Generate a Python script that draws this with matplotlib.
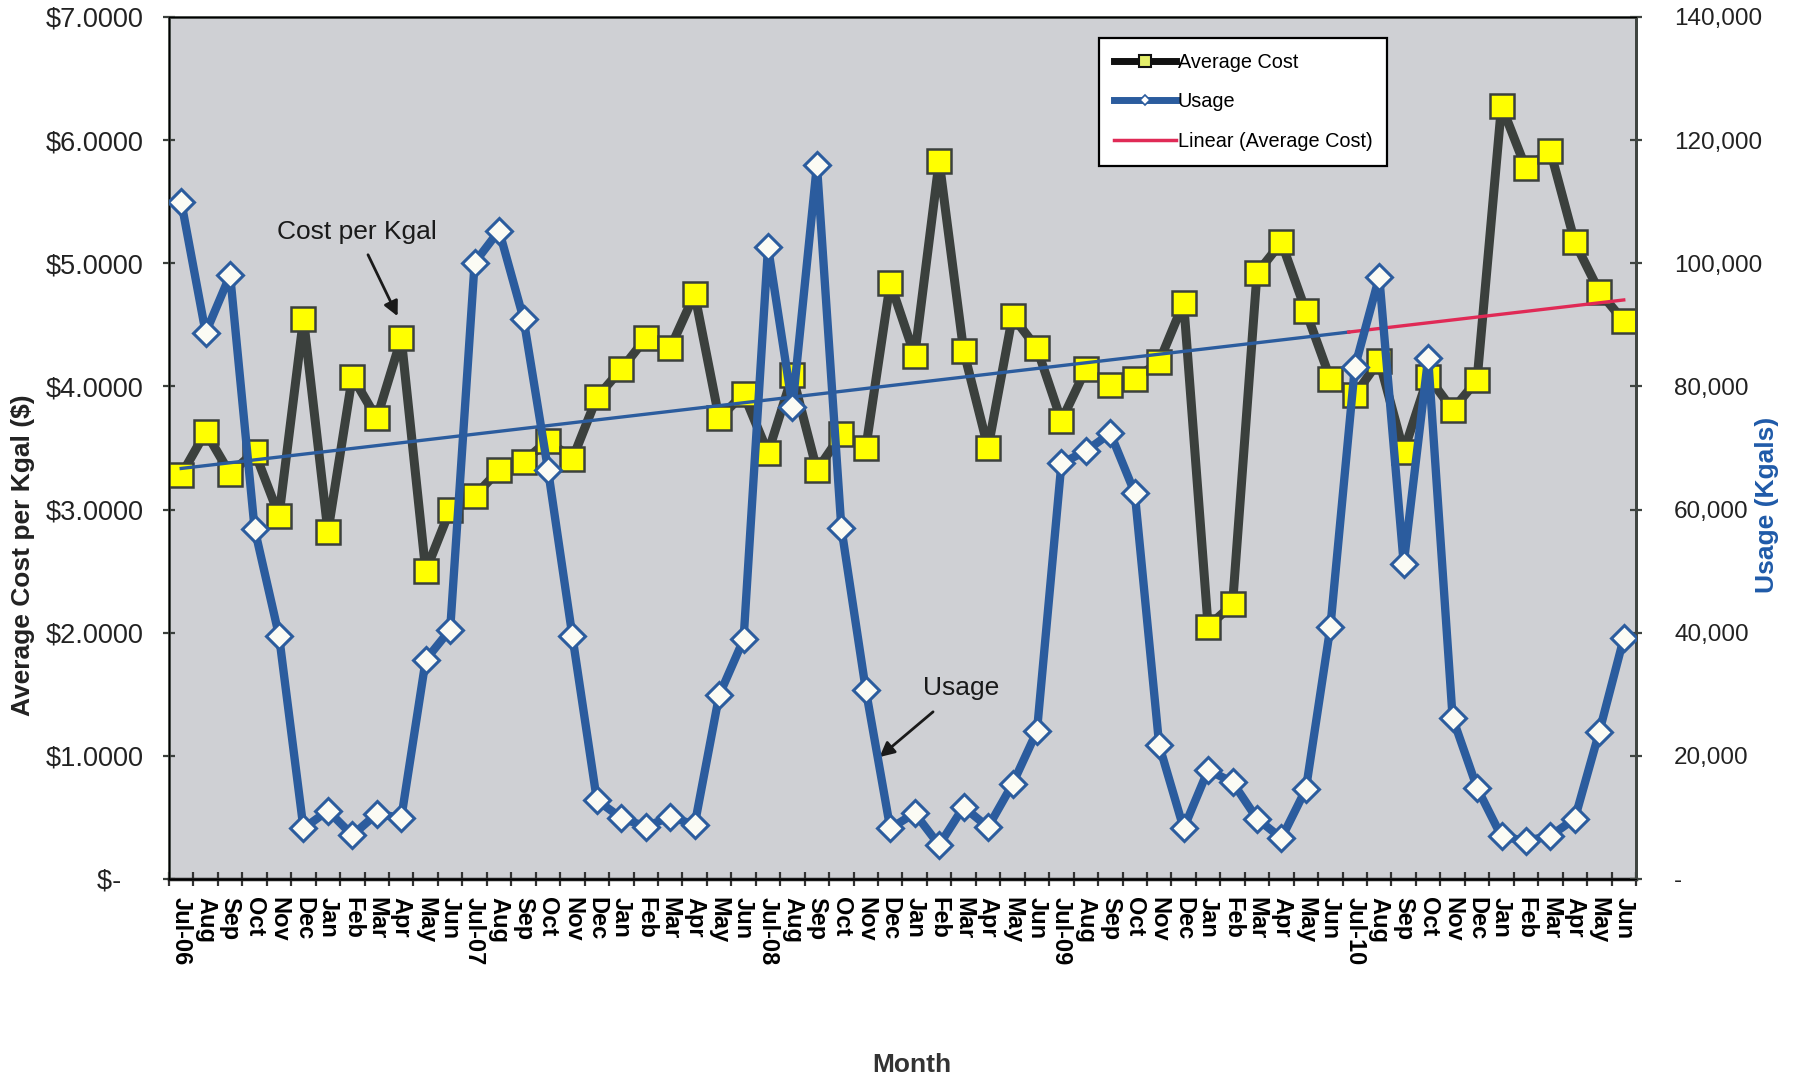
import numpy as np
import matplotlib
matplotlib.use("Agg")
import matplotlib.pyplot as plt
from matplotlib.lines import Line2D
from matplotlib.ticker import FuncFormatter

plt.rcParams['font.family'] = ['Liberation Sans', 'DejaVu Sans']

# Monthly series, Jul-2006 .. Jun-2011
month_names = ["Jul", "Aug", "Sep", "Oct", "Nov", "Dec",
               "Jan", "Feb", "Mar", "Apr", "May", "Jun"]
year_tags = ["06", "07", "08", "09", "10"]

avg_cost = [3.28, 3.63, 3.29, 3.47, 2.95, 4.55, 2.82, 4.08, 3.74, 4.39, 2.50, 3.00,
            3.11, 3.32, 3.39, 3.56, 3.41, 3.91, 4.14, 4.39, 4.31, 4.75, 3.74, 3.94,
            3.46, 4.09, 3.32, 3.61, 3.50, 4.84, 4.25, 5.83, 4.29, 3.50, 4.57, 4.31,
            3.72, 4.14, 4.01, 4.06, 4.20, 4.68, 2.05, 2.23, 4.92, 5.17, 4.61, 4.06,
            3.93, 4.21, 3.47, 4.08, 3.81, 4.05, 6.28, 5.77, 5.91, 5.17, 4.77, 4.53]

usage = [110000, 88700, 98100, 56900, 39500, 8200, 11100, 7100, 10600, 9900, 35600, 40500,
         100100, 105300, 91000, 66500, 39400, 12800, 9900, 8500, 10100, 8800, 29800, 38900,
         102600, 76700, 116000, 57000, 30700, 8200, 10700, 5500, 11700, 8400, 15400, 24000,
         67500, 69500, 72400, 62700, 21700, 8200, 17700, 15700, 9800, 6600, 14600, 40900,
         83100, 97800, 51200, 84600, 26200, 14800, 6900, 6200, 7000, 9800, 23900, 39100]

labels = []
for yy in year_tags:
    labels += [m + "-" + yy if m == "Jul" else m for m in month_names]

x = np.arange(len(avg_cost))

COST_LINE = '#3b403d'
BLUE = '#2b5c9e'
RED = '#e02a56'

fig = plt.figure(figsize=(17.96, 10.81), dpi=100)
ax = fig.add_axes([0.0941, 0.1869, 0.8168, 0.7974])
ax.set_facecolor('#cfd0d4')

# average cost (left axis)
ax.plot(x, avg_cost, color=COST_LINE, lw=6.5, marker='s', ms=17,
        mfc='#ffff00', mec=COST_LINE, mew=1.8, zorder=3)

# linear trend of the average cost
slope, intercept = np.polyfit(x, avg_cost, 1)
split = 47.75
xa = np.array([0, split])
xb = np.array([split, x[-1]])
ax.plot(xa, slope * xa + intercept, color=BLUE, lw=2.4, zorder=4)
ax.plot(xb, slope * xb + intercept, color=RED, lw=2.4, zorder=4)

ax.set_xlim(-0.5, len(x) - 0.5)
ax.set_ylim(0, 7)
ax.set_yticks(np.arange(0, 8, 1))
ax.yaxis.set_major_formatter(FuncFormatter(
    lambda v, p: "$-   " if v == 0 else "${:.4f}".format(v)))
ax.tick_params(axis='y', direction='inout', length=9, width=1.6, pad=14,
               labelsize=19.5, color='#3b403d', labelcolor='#222222')

ax.set_xticks(np.arange(len(x) + 1) - 0.5)
ax.set_xticklabels([])
ax.set_xticks(x, minor=True)
ax.set_xticklabels(labels, minor=True, rotation=270, fontweight='bold',
                   fontsize=17, va='top', ha='center')
ax.tick_params(axis='x', which='major', direction='inout', length=10,
               width=1.6, color='#333333')
ax.tick_params(axis='x', which='minor', length=0, pad=13)

for side in ['left', 'top', 'right']:
    ax.spines[side].set_color('#3f4440')
    ax.spines[side].set_linewidth(2)
ax.spines['bottom'].set_color('#1c1c1c')
ax.spines['bottom'].set_linewidth(2.5)

# usage (right axis)
ax2 = ax.twinx()
ax2.plot(x, usage, color=BLUE, lw=6, marker='D', ms=13,
         mfc='#fbfbf4', mec=BLUE, mew=2.2, zorder=3)
ax2.set_ylim(0, 140000)
ax2.set_yticks(np.arange(0, 140001, 20000))
ax2.yaxis.set_major_formatter(FuncFormatter(
    lambda v, p: "-" if v == 0 else "{:,.0f}".format(v)))
ax2.tick_params(axis='y', direction='inout', length=9, width=1.6, pad=23,
                labelsize=17.5, color='#3f4440', labelcolor='#222222')
ax2.spines['right'].set_color('#3f4440')
ax2.spines['right'].set_linewidth(2)

# callouts
ax.annotate("Cost per Kgal", xy=(8.85, 4.57), xytext=(7.2, 5.25),
            fontsize=19, color='#1a1a1a', ha='center', va='center', zorder=6,
            arrowprops=dict(arrowstyle='-|>', color='#1a1a1a', lw=2,
                            mutation_scale=22, shrinkA=6, shrinkB=0))
ax.annotate("Usage", xy=(28.56, 0.99), xytext=(31.9, 1.55),
            fontsize=19, color='#1a1a1a', ha='center', va='center', zorder=6,
            arrowprops=dict(arrowstyle='-|>', color='#1a1a1a', lw=2,
                            mutation_scale=22, shrinkA=10, shrinkB=0))

handles = [
    Line2D([], [], color='#111111', lw=5, marker='s', ms=8,
           mfc='#e4ee6a', mec='#111111', mew=1.5),
    Line2D([], [], color=BLUE, lw=5, marker='D', ms=5,
           mfc='white', mec=BLUE, mew=1.2),
    Line2D([], [], color=RED, lw=2.5),
]
leg = ax2.legend(handles, ["Average Cost", "Usage", "Linear (Average Cost)"],
                 loc='upper left', bbox_to_anchor=(0.634, 0.976),
                 fontsize=14.3, frameon=True, fancybox=False, framealpha=1,
                 edgecolor='black', handlelength=3.1, handletextpad=0.1,
                 labelspacing=1.05, borderpad=0.75, borderaxespad=0)
leg.get_frame().set_linewidth(1.6)

fig.text(0.0128, 0.4866, "Average Cost per Kgal ($)", rotation=90,
         ha='center', va='center', fontsize=19, fontweight='bold',
         color='#222222')
fig.text(0.9839, 0.5328, "Usage (Kgals)", rotation=90, ha='center',
         va='center', fontsize=19, fontweight='bold', color='#1f5aa8')
fig.text(0.5078, 0.0148, "Month", ha='center', va='center', fontsize=19,
         fontweight='bold', color='#333333')

fig.savefig("out.png", dpi=100, facecolor='white')
